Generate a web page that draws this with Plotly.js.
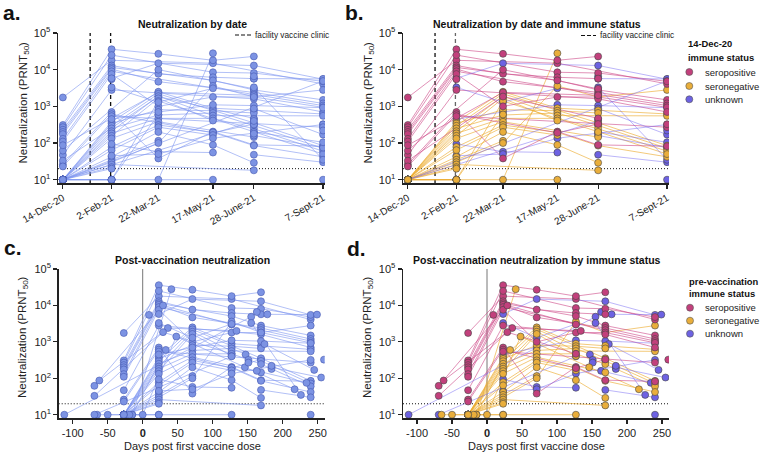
<!DOCTYPE html>
<html><head><meta charset="utf-8">
<script src="https://cdn.plot.ly/plotly-3.0.1.min.js"></script>
<style>html,body{margin:0;padding:0;background:#fff;}#chart{width:760px;height:461px;}</style>
</head><body><div id="chart"></div>
<script>
const _ = null;
const sampleDates = ['2020-12-14','2021-02-02','2021-03-22','2021-05-17','2021-06-28','2021-09-07'];
const dateLabels = ['14-Dec-20','2-Feb-21','22-Mar-21','17-May-21','28-June-21','7-Sept-21'];
const clinicDates = ['2021-01-11','2021-02-01'];
const yTickVals = [10,100,1000,10000,100000];
const yTickText = ['10<sup>1</sup>','10<sup>2</sup>','10<sup>3</sup>','10<sup>4</sup>','10<sup>5</sup>'];
const dayTickVals = [-100,-50,0,50,100,150,200,250];
const dayTickText = ['-100','-50','<b>0</b>','50','100','150','200','250'];
const limitOfDetection = 20;

// immune status per participant: P = seropositive, N = seronegative, U = unknown
const status = ['P','P','P','P','P','P','P','P','P','P','P','P','P','P','P','P','P',
 'N','N','N','N','N','N','N','N','N','N','N','N','N','N','N','N','N','N','N','N','N','N','N',
 'U','U','U','U','U','U','U','U','U','U','U','U','U','U','U','U','U','U','U','U'];
const D0 = '2021-01-10';
const doseDate = [D0,D0,D0,D0,D0,D0,D0,D0,D0,D0,'2021-02-21','2021-02-14','2021-02-21',D0,D0,'2021-01-24','2020-12-22',
 D0,D0,D0,D0,D0,D0,D0,D0,D0,D0,D0,D0,D0,D0,D0,D0,D0,'2021-04-06','2021-02-02','2021-02-17','2021-02-21',D0,D0,
 D0,D0,'2021-01-01',D0,D0,D0,'2021-04-05','2021-01-16','2021-01-16','2020-12-26','2020-12-26','2021-02-01','2021-01-28','2021-01-05',D0,D0,'2021-01-24','2021-02-21','2021-04-09','2021-03-07'];

const prntDec14 = [1750,310,270,230,200,175,130,110,47,26,62,87,33,23,_,_,_,
 10,10,10,10,10,10,10,10,10,10,10,10,10,10,10,10,10,_,10,10,_,10,10,
 _,_,_,_,_,_,10,_,_,_,_,_,_,_,_,_,_,10,_,_];
const prntFeb2 = [18000,36000,25000,13000,11500,10400,9000,7600,2800,700,_,_,_,610,540,5500,_,
 380,340,295,250,210,183,157,133,78,64,42,35,30,26,22,10,10,_,10,10,10,_,20,
 5800,3300,_,450,94,45,_,_,_,_,_,_,_,_,_,_,_,_,_,_];
const prntMar22 = [_,27000,_,7700,_,4700,_,1000,_,38,10000,2400,1850,_,_,_,_,
 2500,810,2200,580,1900,470,1650,380,310,270,200,115,100,_,_,_,_,10,1400,600,_,_,_,
 15000,1300,_,700,58,50,_,_,_,_,_,_,_,_,_,_,_,_,_,_];
const prntMay17 = [15000,18000,8500,6200,5100,_,_,1800,_,205,_,_,_,190,_,_,_,
 890,760,_,660,560,470,410,_,195,165,89,_,3600,_,_,_,10,28000,_,_,_,_,_,
 _,3100,_,1100,55,135,_,_,_,_,_,_,_,_,_,_,_,_,_,_];
const prntJun28 = [_,23000,8100,5700,2800,2400,2100,1800,1600,89,3000,2000,470,330,_,_,_,
 780,660,355,300,_,245,_,145,85,_,29,_,1800,18,_,_,_,_,200,_,_,_,_,
 13000,_,5700,1050,_,_,_,6600,160,200,180,450,320,870,48,_,3300,400,_,_];
const prntSep7 = [4100,_,4800,_,1500,1200,1050,940,700,82,_,_,_,_,270,_,325,
 620,_,85,72,550,60,_,_,42,_,_,_,2800,_,_,_,_,_,50,_,_,_,_,
 5500,_,5600,920,_,320,4900,_,75,105,_,_,_,170,30,10,35,_,270,220];

const W = 760, H = 461;
const px = x => x / W, py = y => 1 - y / H;
const series = [prntDec14, prntFeb2, prntMar22, prntMay17, prntJun28, prntSep7];
const DAY = 86400000;
const toDays = (s, d) => Math.round((Date.parse(s) - Date.parse(d)) / DAY);

function collect(filt, mode) {
  const lx = [], ly = [], mx = [], my = [];
  for (let i = 0; i < status.length; i++) {
    if (!filt(i)) continue;
    for (let k = 0; k < series.length; k++) {
      const v = series[k][i];
      if (v == null) continue;
      const x = mode === 'date' ? sampleDates[k] : toDays(sampleDates[k], doseDate[i]);
      lx.push(x); ly.push(v); mx.push(x); my.push(v);
    }
    lx.push(null); ly.push(null);
  }
  return {lx, ly, mx, my};
}

const statusInfo = {
  N: {name:'seronegative', fill:'#E9AE3B', line:'rgba(236,172,48,0.8)'},
  P: {name:'seropositive', fill:'#C2407C', line:'rgba(204,70,135,0.75)'},
  U: {name:'unknown', fill:'#6D62E2', line:'rgba(112,100,242,0.6)'}
};
const blueFill = '#7C93E3', blueLine = 'rgba(125,150,240,0.75)';
const traces = [];
const markerTraces = [];
const ylow = Math.pow(10, 0.91), yhigh = 100000;

function refLines(xa, ya, mode) {
  if (mode === 'date') {
    clinicDates.forEach((d, j) => traces.push({x:[d,d], y:[ylow,yhigh], xaxis:xa, yaxis:ya, mode:'lines',
      line:{color: (xa==='x2' && j===1) ? '#666' : '#111', width:1.3, dash:'4px,3px'}, hoverinfo:'skip'}));
    traces.push({x:['2020-12-09','2021-09-09'], y:[limitOfDetection,limitOfDetection], xaxis:xa, yaxis:ya, mode:'lines',
      line:{color:'#111', width:1, dash:'1px,2px'}, hoverinfo:'skip'});
  } else {
    traces.push({x:[0,0], y:[ylow,yhigh], xaxis:xa, yaxis:ya, mode:'lines', line:{color:'#777', width:1}, hoverinfo:'skip'});
    traces.push({x:[-120,260], y:[limitOfDetection,limitOfDetection], xaxis:xa, yaxis:ya, mode:'lines',
      line:{color:'#111', width:1, dash:'1px,2px'}, hoverinfo:'skip'});
  }
}

function panelSingle(xa, ya, mode) {
  refLines(xa, ya, mode);
  const c = collect(() => true, mode);
  traces.push({x:c.lx, y:c.ly, xaxis:xa, yaxis:ya, mode:'lines', connectgaps:false,
    line:{color:blueLine, width:0.8}, hoverinfo:'skip'});
  markerTraces.push({x:c.mx, y:c.my, xaxis:xa, yaxis:ya, mode:'markers',
    marker:{size:7, color:blueFill, line:{color:'#4557b0', width:0.6}}});
}
function panelStatus(xa, ya, mode) {
  refLines(xa, ya, mode);
  ['N','P','U'].forEach(s => {
    const c = collect(i => status[i] === s, mode);
    traces.push({x:c.lx, y:c.ly, xaxis:xa, yaxis:ya, mode:'lines', connectgaps:false,
      line:{color:statusInfo[s].line, width:0.8}, hoverinfo:'skip'});
  });
  ['U','N','P'].forEach(s => {
    const c = collect(i => status[i] === s, mode);
    markerTraces.push({x:c.mx, y:c.my, xaxis:xa, yaxis:ya, mode:'markers', name:statusInfo[s].name,
      marker:{size:7, color:statusInfo[s].fill, line:{color:'#444', width:0.6}}});
  });
}
panelSingle('x','y','date');
panelStatus('x2','y2','date');
panelSingle('x3','y3','days');
panelStatus('x4','y4','days');
const data = traces.concat(markerTraces);

const FONT = 'Liberation Sans, Arial, Helvetica, sans-serif';
const axLine = {showline:true, linecolor:'#222', linewidth:1.5, ticks:'outside', ticklen:4, tickwidth:1.2,
  tickcolor:'#222', showgrid:false, zeroline:false, fixedrange:true};
const yAx = (dom, anchor) => Object.assign({}, axLine, {type:'log', range:[0.91,5], domain:dom, anchor:anchor,
  tickvals:yTickVals, ticktext:yTickText, tickfont:{family:FONT, size:11, color:'#222'}});
const xDate = (dom, anchor) => Object.assign({}, axLine, {type:'date', range:['2020-12-09','2021-09-09'], domain:dom, anchor:anchor,
  tickvals:sampleDates, ticktext:dateLabels, tickangle:-30, tickfont:{family:FONT, size:10, color:'#222'}});
const xDays = (dom, anchor) => Object.assign({}, axLine, {range:[-120,260], domain:dom, anchor:anchor,
  tickvals:dayTickVals, ticktext:dayTickText, tickfont:{family:FONT, size:11, color:'#222'}});

const topDom = [py(183), py(33)], botDom = [py(418), py(269)];
const leftDom = [px(58), px(325)], rightDom = [px(403), px(669)];
const leftDomC = [px(58.7), px(324.7)];

const ann = [];
function txt(text, x, y, opts) {
  ann.push(Object.assign({text:text, x:px(x), y:py(y), xref:'paper', yref:'paper', showarrow:false,
    xanchor:'center', yanchor:'middle', font:{family:FONT, size:11, color:'#111'}}, opts || {}));
}
// panel letters
const letterFont = {family:FONT, size:21, color:'#111'};
txt('<b>a.</b>', 2, 0, {xanchor:'left', yanchor:'top', borderpad:0, font:letterFont});
txt('<b>b.</b>', 344, 0, {xanchor:'left', yanchor:'top', borderpad:0, font:letterFont});
txt('<b>c.</b>', 2, 247, {xanchor:'left', font:letterFont});
txt('<b>d.</b>', 345, 249, {xanchor:'left', font:letterFont});
// titles
const tf = {family:FONT, size:10.5, color:'#111'};
txt('<b>Neutralization by date</b>', 192.5, 23.7, {font:tf});
txt('<b>Neutralization by date and immune status</b>', 536.5, 23.7, {font:tf});
txt('<b>Post-vaccination neutralization</b>', 192, 259.7, {font:tf});
txt('<b>Post-vaccination neutralization by immune status</b>', 536.5, 259.7, {font:tf});
// y titles
const ytf = {family:FONT, size:11.5, color:'#222'};
const ytitle = 'Neutralization (PRNT<sub>50</sub>)';
txt(ytitle, 23, 102.5, {textangle:-90, font:ytf});
txt(ytitle, 368, 102.5, {textangle:-90, font:ytf});
txt(ytitle, 23, 337, {textangle:-90, font:ytf});
txt(ytitle, 368, 337, {textangle:-90, font:ytf});
// x titles
txt('Days post first vaccine dose', 192, 446, {font:{family:FONT, size:11, color:'#222'}});
txt('Days post first vaccine dose', 536, 446, {font:{family:FONT, size:11, color:'#222'}});
// clinic legends
const lf = {family:FONT, size:8.3, color:'#222'};
txt('facility vaccine clinic', 253, 35, {xanchor:'left', font:lf});
txt('facility vaccine clinic', 598, 35.5, {xanchor:'left', font:lf});
// status legends
const lgt = {family:FONT, size:9.4, color:'#111'};
const lge = {family:FONT, size:9.5, color:'#222'};
txt('<b>14-Dec-20</b>', 686, 43.5, {xanchor:'left', font:lgt});
txt('<b>immune status</b>', 686, 57, {xanchor:'left', font:lgt});
txt('<b>pre-vaccination</b>', 686.5, 281.7, {xanchor:'left', font:lgt});
txt('<b>immune status</b>', 686.5, 293, {xanchor:'left', font:lgt});
const shapes = [];
const legYb = [72, 86, 99.3], legYd = [307.7, 320.7, 333.7];
['P','N','U'].forEach((s, j) => {
  txt(statusInfo[s].name, 702.7, legYb[j], {xanchor:'left', font:lge});
  txt(statusInfo[s].name, 702.7, legYd[j], {xanchor:'left', font:lge});
  [[689.3, legYb[j]], [690, legYd[j]]].forEach(([cx, cy]) => shapes.push({type:'circle', xref:'paper', yref:'paper',
    x0:px(cx-3.5), x1:px(cx+3.5), y0:py(cy+3.5), y1:py(cy-3.5), fillcolor:statusInfo[s].fill, line:{color:'#555', width:0.6}}));
});
[[235, 251, 35], [581, 596, 35.5]].forEach(([x0, x1, y]) => shapes.push({type:'line', xref:'paper', yref:'paper',
  x0:px(x0), x1:px(x1), y0:py(y), y1:py(y), line:{color:'#111', width:1.2, dash:'4px,2px'}}));

const layout = {
  width:W, height:H, margin:{l:0, r:0, t:0, b:0}, showlegend:false,
  paper_bgcolor:'#fff', plot_bgcolor:'rgba(0,0,0,0)',
  xaxis: xDate(leftDom, 'y'), yaxis: yAx(topDom, 'x'),
  xaxis2: xDate(rightDom, 'y2'), yaxis2: yAx(topDom, 'x2'),
  xaxis3: xDays(leftDomC, 'y3'), yaxis3: yAx(botDom, 'x3'),
  xaxis4: xDays(rightDom, 'y4'), yaxis4: yAx(botDom, 'x4'),
  annotations: ann, shapes: shapes, hovermode:false
};
Plotly.newPlot('chart', data, layout, {staticPlot:true, displayModeBar:false});
</script></body></html>
